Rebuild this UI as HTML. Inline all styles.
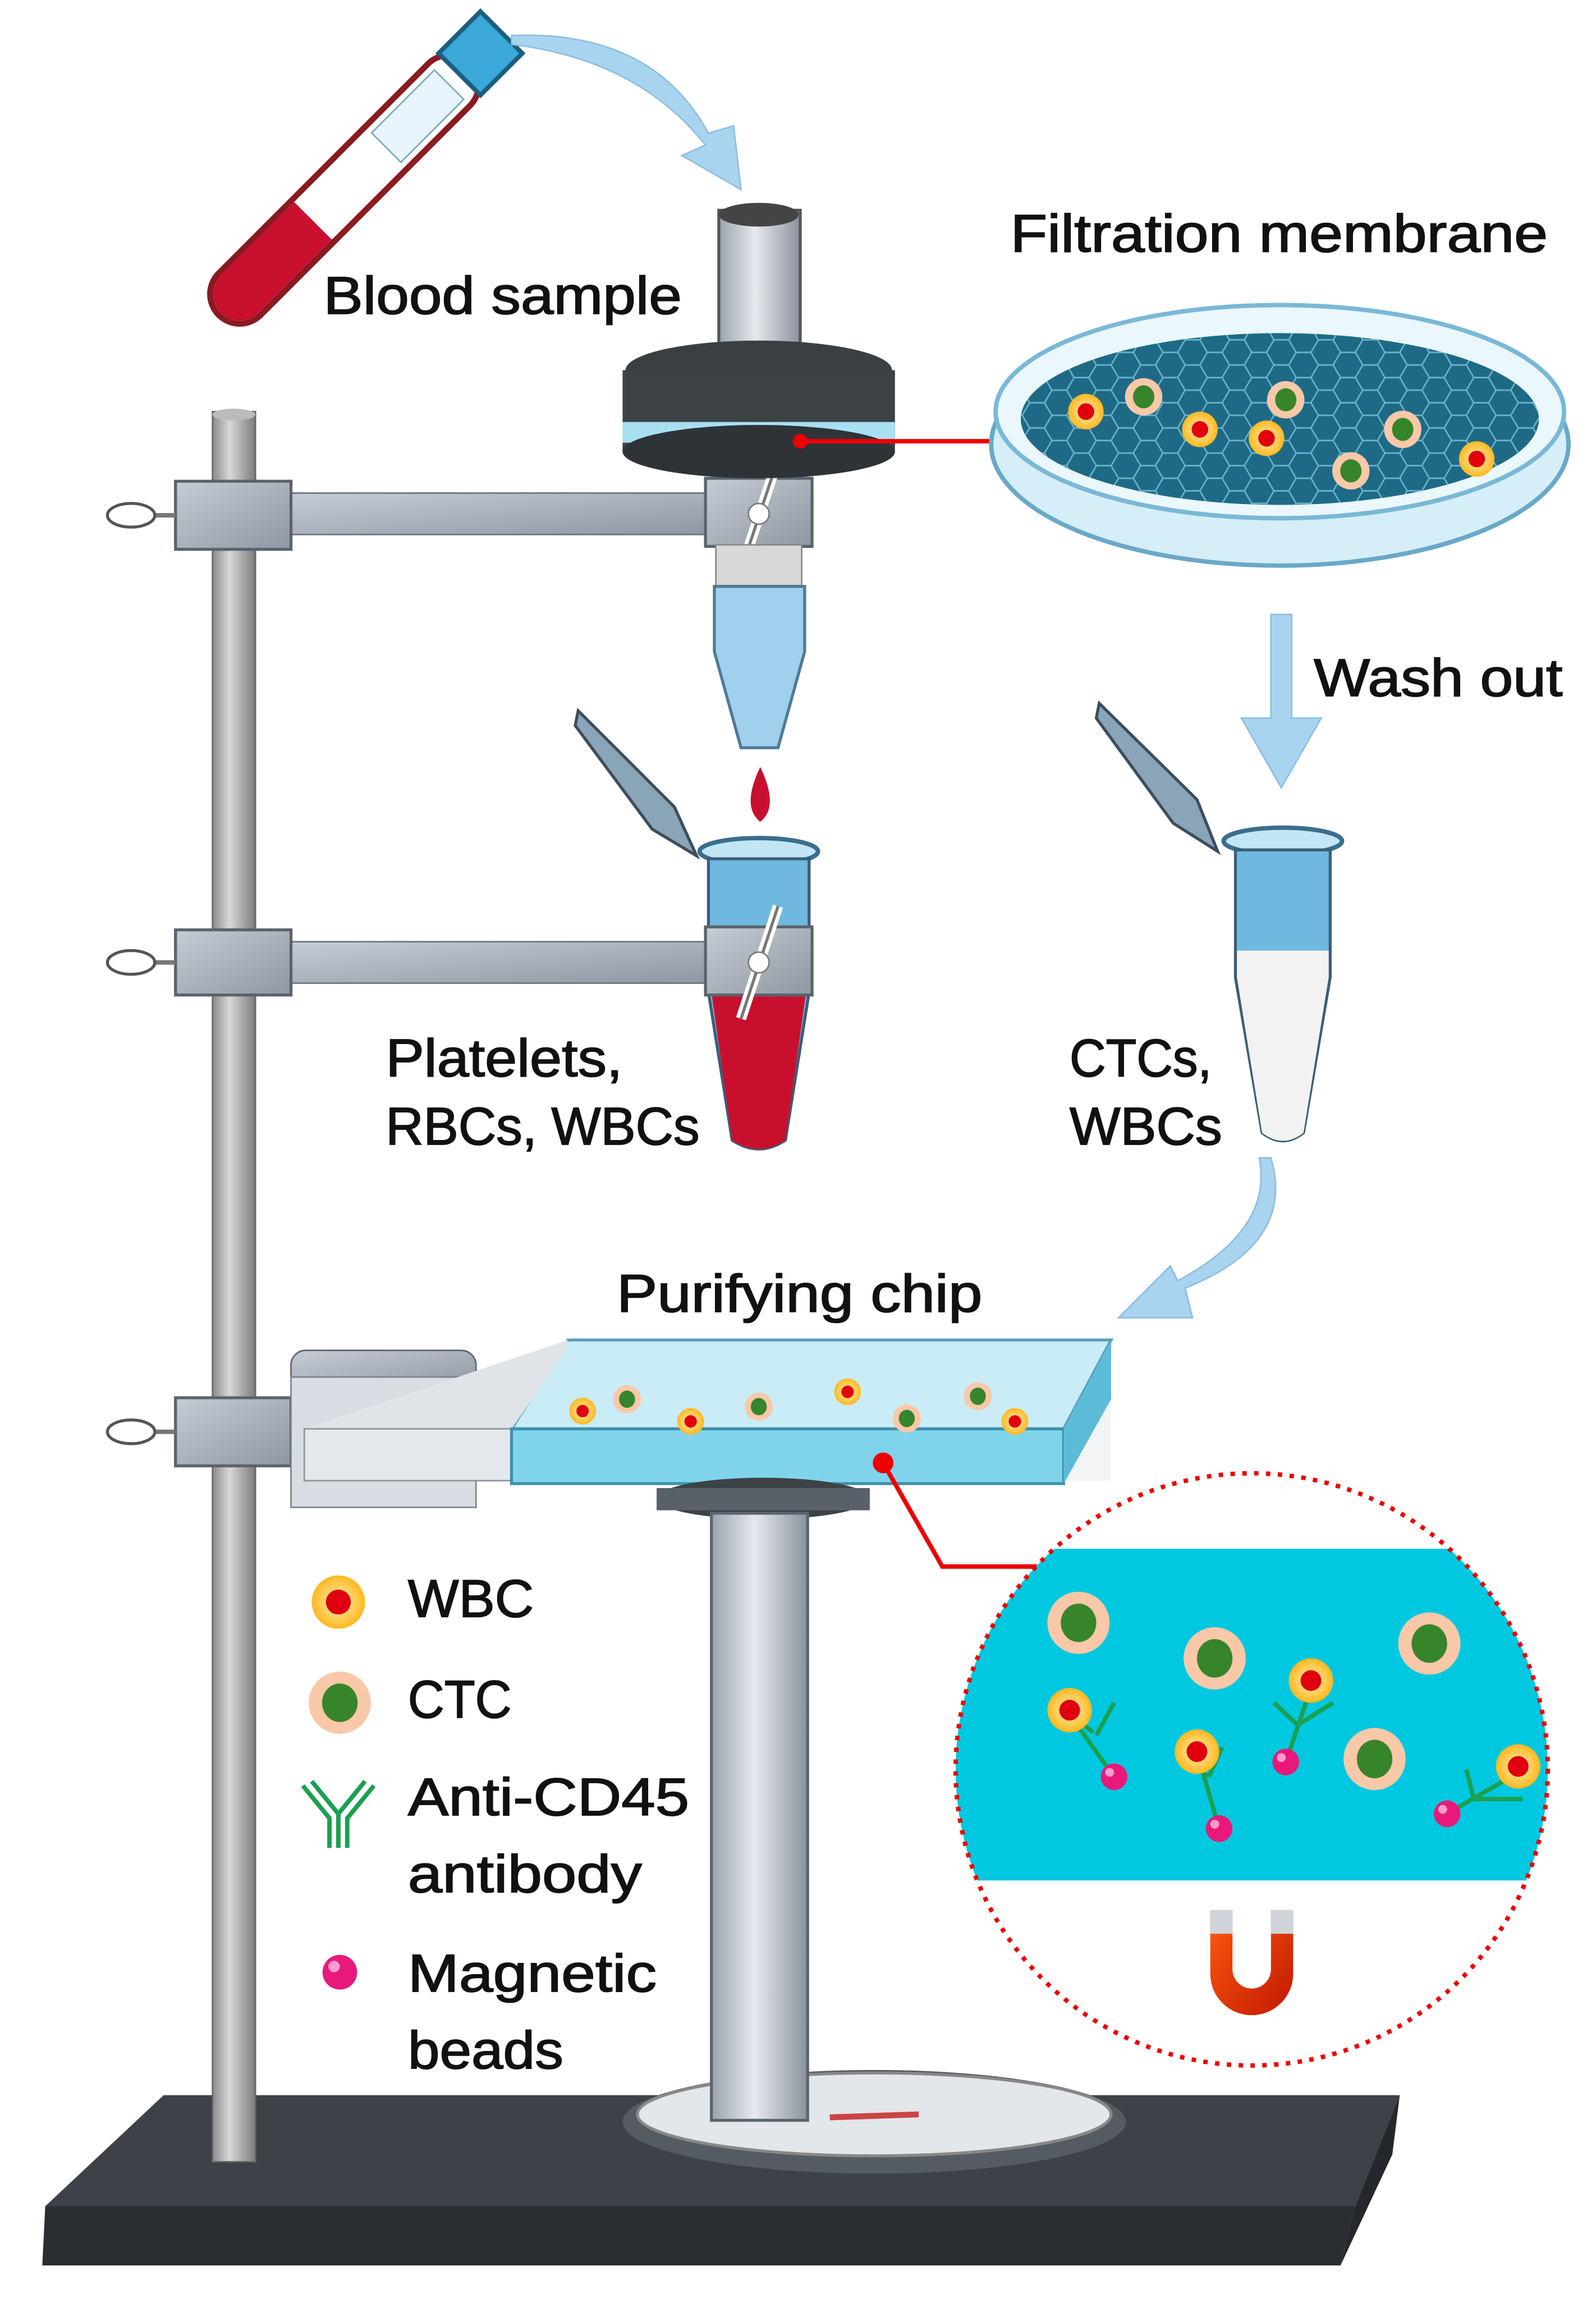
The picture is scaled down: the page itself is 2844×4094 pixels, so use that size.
<!DOCTYPE html>
<html><head><meta charset="utf-8"><style>html,body{margin:0;padding:0;background:#fff}svg{display:block}text{stroke:#111;stroke-width:0.7px}</style></head>
<body>
<svg width="2844" height="4094" viewBox="0 0 1077 1552" xmlns="http://www.w3.org/2000/svg" font-family="Liberation Sans, sans-serif">
<defs>
<linearGradient id="rod" x1="0" x2="1"><stop offset="0" stop-color="#8a8a8a"/><stop offset=".4" stop-color="#d8d8d8"/><stop offset="1" stop-color="#7a7a7a"/></linearGradient>
<linearGradient id="col" x1="0" x2="1"><stop offset="0" stop-color="#9aa3ad"/><stop offset=".45" stop-color="#e6e9ee"/><stop offset="1" stop-color="#8a929c"/></linearGradient>
<linearGradient id="arm" y1="0" y2="1"><stop offset="0" stop-color="#c6ccd4"/><stop offset="1" stop-color="#8e97a2"/></linearGradient>
<linearGradient id="mag" y1="0" y2="1"><stop offset="0" stop-color="#ff5a10"/><stop offset="1" stop-color="#c01800"/></linearGradient>
<clipPath id="cc"><circle cx="845" cy="1195" r="200"/></clipPath>
<clipPath id="pd"><ellipse cx="864" cy="283" rx="175" ry="58"/></clipPath>
<radialGradient id="wbc"><stop offset=".3" stop-color="#ffe08a"/><stop offset="1" stop-color="#ffb820"/></radialGradient>
<pattern id="hex" width="30" height="17" patternUnits="userSpaceOnUse"><path d="M0 8.5 L5 0 H15 L20 8.5 L15 17 H5 Z M20 8.5 H30" fill="none" stroke="#6ab4cc" stroke-width="1"/></pattern>
<g id="W"><circle r="15" fill="url(#wbc)"/><circle r="7" fill="#e00010"/></g>
<g id="C"><circle r="21" fill="#f9c8a8"/><ellipse rx="12" ry="13" fill="#37852a"/></g>
<g id="B"><circle r="9" fill="#e8197a"/><circle cx="-3" cy="-3" r="3" fill="#ff9ccc"/></g>
</defs>

<polygon points="110,1415 945,1415 915,1490 30,1490" fill="#3d4248"/>
<polygon points="30,1490 915,1490 905,1530 28,1530" fill="#2a2e33"/>
<polygon points="915,1490 945,1415 940,1455 905,1530" fill="#24282c"/>
<ellipse cx="590" cy="1433" rx="170" ry="35" fill="#555b62"/>
<ellipse cx="590" cy="1428" rx="160" ry="28" fill="#e3e6ea" stroke="#888" stroke-width="2"/>
<path d="M560 1430 L620 1428" stroke="#c44" stroke-width="4"/>

<rect x="143" y="278" width="29" height="1182" fill="url(#rod)" stroke="#666" stroke-width="1"/>
<ellipse cx="157.5" cy="280" rx="14.5" ry="4" fill="#bbb"/>

<g>
<rect x="196" y="333" width="282" height="28" fill="url(#arm)" stroke="#6a727c"/>
<rect x="118" y="325" width="78" height="46" fill="url(#arm)" stroke="#5b636d" stroke-width="2"/>
<line x1="118" y1="348" x2="100" y2="348" stroke="#777" stroke-width="3"/>
<ellipse cx="88" cy="348" rx="16" ry="8" fill="#fff" stroke="#555" stroke-width="2"/>
<rect x="476" y="323" width="72" height="46" fill="url(#arm)" stroke="#5b636d" stroke-width="2"/>
<line x1="500" y1="385" x2="525" y2="310" stroke="#fff" stroke-width="7"/><line x1="500" y1="385" x2="525" y2="310" stroke="#777" stroke-width="2"/>
<circle cx="512" cy="347" r="7" fill="#fff" stroke="#777"/>
</g>
<g>
<rect x="196" y="636" width="282" height="28" fill="url(#arm)" stroke="#6a727c"/>
<rect x="118" y="628" width="78" height="44" fill="url(#arm)" stroke="#5b636d" stroke-width="2"/>
<line x1="118" y1="650" x2="100" y2="650" stroke="#777" stroke-width="3"/>
<ellipse cx="88" cy="650" rx="16" ry="8" fill="#fff" stroke="#555" stroke-width="2"/>
</g>
<g>
<rect x="118" y="944" width="78" height="46" fill="url(#arm)" stroke="#5b636d" stroke-width="2"/>
<line x1="118" y1="967" x2="100" y2="967" stroke="#777" stroke-width="3"/>
<ellipse cx="88" cy="967" rx="16" ry="8" fill="#fff" stroke="#555" stroke-width="2"/>
<rect x="196" y="912" width="125" height="26" rx="10" fill="url(#arm)" stroke="#5b636d"/>
<rect x="196" y="930" width="125" height="88" fill="#d8dde3" stroke="#7a828c"/>
</g>

<g transform="translate(225,135) rotate(45)">
<rect x="-20" y="-130" width="40" height="240" rx="20" fill="#fff" stroke="#8a1a22" stroke-width="4"/>
<path d="M-18 20 L18 20 L18 90 A18 18 0 0 1 -18 90 Z" fill="#c8102e"/>
<rect x="-20" y="-160" width="40" height="40" fill="#3aa8d8" stroke="#1c5d80" stroke-width="3"/>
<rect x="-14" y="-110" width="28" height="60" fill="#e8f4fb" stroke="#7ab" stroke-width="1"/>
</g>
<text x="218" y="212" font-size="36" fill="#111" textLength="242" lengthAdjust="spacingAndGlyphs">Blood sample</text>
<path d="M345 24 Q440 20 478 90 L495 85 L500 128 L460 105 L476 98 Q430 40 345 30 Z" fill="#a8d4f0" stroke="#8cbde0"/>

<rect x="485" y="142" width="55" height="105" fill="url(#col)" stroke="#555" stroke-width="2"/>
<ellipse cx="512" cy="145" rx="27" ry="8" fill="#444"/>
<ellipse cx="512" cy="250" rx="90" ry="20" fill="#3a3f44"/>
<rect x="420" y="250" width="184" height="55" fill="#3d4247"/>
<rect x="420" y="285" width="184" height="14" fill="#a8e0f2"/>
<ellipse cx="512" cy="305" rx="92" ry="18" fill="#2e3338"/>
<circle cx="540" cy="298" r="5" fill="#e00"/>
<line x1="540" y1="298" x2="668" y2="298" stroke="#e00" stroke-width="3"/>
<rect x="483" y="368" width="58" height="28" fill="#d8d8d8" stroke="#888"/>
<path d="M482 396 L543 396 L543 440 L525 505 L500 505 L482 440 Z" fill="#9fd0ec" stroke="#4f7a98" stroke-width="2"/>
<path d="M513 518 Q500 545 513 555 Q526 545 513 518 Z" fill="#c8102e"/>

<text x="682" y="170" font-size="36" fill="#111" textLength="363" lengthAdjust="spacingAndGlyphs">Filtration membrane</text>
<ellipse cx="864" cy="300" rx="195" ry="82" fill="#d6eef8" stroke="#6aa8c8" stroke-width="3"/>
<ellipse cx="864" cy="278" rx="192" ry="72" fill="#eaf7fc" stroke="#7ab8d6" stroke-width="3"/>
<ellipse cx="864" cy="283" rx="175" ry="58" fill="#1e6a86"/>
<rect x="689" y="225" width="350" height="116" fill="url(#hex)" clip-path="url(#pd)"/>
<g>
<use href="#W" transform="translate(733,278) scale(.8)"/><use href="#C" transform="translate(772,268) scale(.6)"/>
<use href="#C" transform="translate(868,270) scale(.6)"/><use href="#W" transform="translate(810,290) scale(.8)"/>
<use href="#W" transform="translate(855,296) scale(.8)"/><use href="#C" transform="translate(947,290) scale(.6)"/>
<use href="#C" transform="translate(912,318) scale(.6)"/><use href="#W" transform="translate(997,310) scale(.8)"/>
</g>
<path d="M858 415 L872 415 L872 485 L892 485 L865 532 L838 485 L858 485 Z" fill="#a8d4f0" stroke="#8cbde0"/>
<text x="887" y="470" font-size="36" fill="#111" textLength="168" lengthAdjust="spacingAndGlyphs">Wash out</text>

<path d="M390 480 L455 545 L470 578 L440 560 L388 490 Z" fill="#8aa4b8" stroke="#3b4e5c" stroke-width="2"/>
<ellipse cx="512" cy="575" rx="40" ry="9" fill="#c2e6f6" stroke="#3b6e8c" stroke-width="3"/>
<path d="M478 580 L546 580 L546 670 L530 770 Q512 782 494 770 L478 670 Z" fill="#6fb8e0" stroke="#3b5e78" stroke-width="2"/>
<path d="M480 670 L544 670 L530 770 Q512 782 494 770 Z" fill="#c8102e"/>
<rect x="476" y="626" width="72" height="46" fill="url(#arm)" stroke="#5b636d" stroke-width="2"/>
<line x1="500" y1="688" x2="525" y2="612" stroke="#fff" stroke-width="7"/><line x1="500" y1="688" x2="525" y2="612" stroke="#777" stroke-width="2"/>
<circle cx="512" cy="650" r="7" fill="#fff" stroke="#777"/>
<text x="260" y="727" font-size="36" fill="#111" textLength="160" lengthAdjust="spacingAndGlyphs">Platelets,</text>
<text x="260" y="773" font-size="36" fill="#111" textLength="212" lengthAdjust="spacingAndGlyphs">RBCs, WBCs</text>

<path d="M742 475 L808 540 L822 575 L792 556 L740 485 Z" fill="#8aa4b8" stroke="#3b4e5c" stroke-width="2"/>
<ellipse cx="866" cy="568" rx="40" ry="9" fill="#c2e6f6" stroke="#3b6e8c" stroke-width="3"/>
<path d="M834 574 L898 574 L898 660 L880 765 Q866 776 852 765 L834 660 Z" fill="#6fb8e0" stroke="#3b5e78" stroke-width="2"/>
<path d="M835 642 L897 642 L897 660 L880 765 Q866 776 852 765 L835 660 Z" fill="#f2f2f2"/>
<text x="722" y="727" font-size="36" fill="#111" textLength="96" lengthAdjust="spacingAndGlyphs">CTCs,</text>
<text x="722" y="773" font-size="36" fill="#111" textLength="103" lengthAdjust="spacingAndGlyphs">WBCs</text>
<path d="M858 782 Q875 840 800 870 L805 890 L755 890 L790 855 L795 865 Q860 830 850 782 Z" fill="#a8d4f0" stroke="#8cbde0"/>
<text x="416" y="886" font-size="36" fill="#111" textLength="247" lengthAdjust="spacingAndGlyphs">Purifying chip</text>

<polygon points="205,965 383,905 750,905 750,1000 345,1000 205,1000" fill="#f2f4f6"/>
<polygon points="345,965 383,905 750,905 718,965" fill="#c9ecf6" stroke="#5a9fbc" stroke-width="2"/>
<polygon points="205,965 383,905 383,910 345,965" fill="#e0e4e8"/>
<rect x="205" y="965" width="140" height="35" fill="#e4e8ec" stroke="#8a929c"/>
<polygon points="345,965 718,965 718,1002 345,1002" fill="#7fd4ec" stroke="#3f8fac" stroke-width="2"/>
<polygon points="718,965 750,905 750,945 718,1002" fill="#5cbcd8"/>
<g>
<use href="#W" transform="translate(393,953) scale(.6)"/><use href="#C" transform="translate(423,945) scale(.45)"/>
<use href="#W" transform="translate(466,960) scale(.6)"/><use href="#C" transform="translate(512,950) scale(.45)"/>
<use href="#W" transform="translate(572,940) scale(.6)"/><use href="#C" transform="translate(612,958) scale(.45)"/>
<use href="#C" transform="translate(660,943) scale(.45)"/><use href="#W" transform="translate(685,960) scale(.6)"/>
</g>
<circle cx="596" cy="988" r="7" fill="#e00"/>
<polyline points="596,988 636,1058 700,1058" fill="none" stroke="#e00" stroke-width="3"/>

<ellipse cx="515" cy="1012" rx="72" ry="14" fill="#3d4247"/>
<rect x="443" y="1005" width="144" height="15" fill="#5a6068"/>
<rect x="480" y="1022" width="65" height="410" fill="url(#col)" stroke="#5c646e" stroke-width="2"/>

<circle cx="845" cy="1195" r="200" fill="#fff"/>
<rect x="640" y="1046" width="420" height="224" fill="#00c8e0" clip-path="url(#cc)"/>
<circle cx="845" cy="1195" r="200" fill="none" stroke="#e00" stroke-width="3" stroke-dasharray="3 5"/>
<g stroke="#1aa050" stroke-width="3" fill="none">
<path d="M722 1158 L752 1200 M738 1170 L725 1160 M740 1172 L752 1150"/>
<path d="M810 1190 L823 1235 M815 1200 L800 1185 M816 1200 L825 1180"/>
<path d="M885 1140 L868 1190 M876 1165 L860 1150 M876 1165 L900 1150"/>
<path d="M1020 1200 L977 1225 M995 1215 L990 1195 M995 1215 L1028 1215"/>
</g>
<use href="#C" transform="translate(728,1096)"/><use href="#C" transform="translate(820,1120)"/>
<use href="#C" transform="translate(965,1110)"/><use href="#C" transform="translate(928,1188)"/>
<use href="#W" transform="translate(722,1155)"/><use href="#W" transform="translate(808,1183)"/>
<use href="#W" transform="translate(885,1135)"/><use href="#W" transform="translate(1025,1193)"/>
<use href="#B" transform="translate(752,1200)"/><use href="#B" transform="translate(823,1235)"/>
<use href="#B" transform="translate(868,1190)"/><use href="#B" transform="translate(977,1225)"/>
<path d="M817 1290 L832 1290 L832 1330 A13 13 0 0 0 858 1330 L858 1290 L873 1290 L873 1333 A28 28 0 0 1 817 1333 Z" fill="url(#mag)"/>
<rect x="817" y="1290" width="15" height="16" fill="#d0d4da"/><rect x="858" y="1290" width="15" height="16" fill="#d0d4da"/>

<use href="#W" transform="translate(228,1082) scale(1.2)"/>
<text x="275" y="1092" font-size="36" fill="#111" textLength="85" lengthAdjust="spacingAndGlyphs">WBC</text>
<use href="#C" transform="translate(229,1150)"/>
<text x="275" y="1160" font-size="36" fill="#111" textLength="70" lengthAdjust="spacingAndGlyphs">CTC</text>
<g stroke="#1aa050" stroke-width="3" fill="none"><path d="M228 1248 L228 1225 L210 1203 M228 1225 L246 1203 M222 1248 L222 1228 L204 1206 M234 1248 L234 1228 L252 1206"/></g>
<text x="275" y="1226" font-size="36" fill="#111" textLength="190" lengthAdjust="spacingAndGlyphs">Anti-CD45</text>
<text x="275" y="1278" font-size="36" fill="#111" textLength="158" lengthAdjust="spacingAndGlyphs">antibody</text>
<use href="#B" transform="translate(229,1332) scale(1.3)"/>
<text x="275" y="1345" font-size="36" fill="#111" textLength="168" lengthAdjust="spacingAndGlyphs">Magnetic</text>
<text x="275" y="1397" font-size="36" fill="#111" textLength="105" lengthAdjust="spacingAndGlyphs">beads</text>
</svg>
</body></html>
